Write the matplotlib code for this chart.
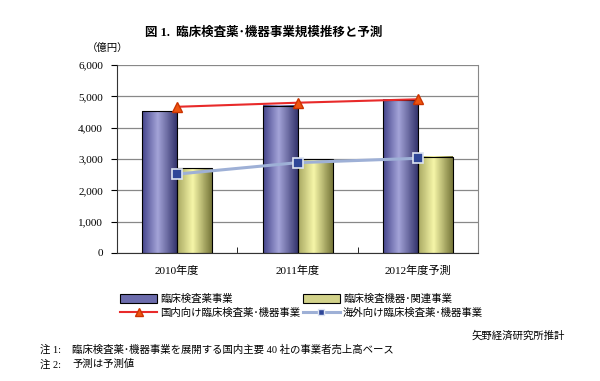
import matplotlib
matplotlib.use("Agg")
import matplotlib.pyplot as plt
import numpy as np
from matplotlib.colors import LinearSegmentedColormap
from matplotlib.patches import Patch
from matplotlib.lines import Line2D

plt.rcParams['font.family'] = ['Liberation Serif', 'Noto Sans CJK JP']

# data (億円)
years = ['2010年度', '2011年度', '2012年度予測']
reagent = [4530, 4700, 4890]      # 臨床検査薬事業
equipment = [2700, 2990, 3070]    # 臨床検査機器・関連事業
domestic = [4670, 4800, 4910]     # 国内向け
overseas = [2520, 2885, 3025]     # 海外向け

blue_cmap = LinearSegmentedColormap.from_list(
    'b', [(0, '#45458c'), (0.45, '#a4a4d8'), (1, '#35356e')])
yellow_cmap = LinearSegmentedColormap.from_list(
    'y', [(0, '#a8a862'), (0.45, '#f6f6a8'), (1, '#77773a')])

fig = plt.figure(figsize=(6, 3.81), dpi=100)
ax = fig.add_axes([0.195, 0.336, 0.602, 0.493])

x = np.arange(len(years))
w = 0.29
grad = np.linspace(0, 1, 64).reshape(1, -1)

bars1 = ax.bar(x - w / 2, reagent, w, facecolor='none', edgecolor='black', linewidth=0.8, zorder=3)
bars2 = ax.bar(x + w / 2, equipment, w, facecolor='none', edgecolor='black', linewidth=0.8, zorder=3)
for bars, cm in ((bars1, blue_cmap), (bars2, yellow_cmap)):
    for b in bars:
        ax.imshow(grad, cmap=cm, aspect='auto', zorder=2,
                  extent=[b.get_x(), b.get_x() + b.get_width(), 0, b.get_height()])

ax.plot(x, domestic, color='#e82a2a', lw=1.5, marker='^', ms=7.5,
        mfc='#ee5511', mec='#cc3300', zorder=5)
ax.plot(x, overseas, color='#9eb0d6', lw=2.2, marker='s', ms=7,
        mfc='#2e4698', mec='#dde4f2', mew=1.2, zorder=5)

ax.set_xlim(-0.5, 2.5)
ax.set_ylim(0, 6000)
ax.set_yticks(range(0, 6001, 1000))
ax.set_yticklabels([f'{v:,}' for v in range(0, 6001, 1000)], fontsize=8)
ax.yaxis.grid(True, color='#888888', lw=0.9, zorder=0)
ax.set_axisbelow(True)
ax.set_xticks(x)
ax.set_xticklabels(years, fontsize=8)
ax.tick_params(axis='x', length=0, pad=9)
ax.set_xticks([0.5, 1.5], minor=True)
ax.tick_params(axis='x', which='minor', direction='in', length=4)
ax.tick_params(axis='y', length=4, direction='out', pad=6)
ax.spines['top'].set_visible(False)
ax.spines['right'].set_color('#888888')
for s in ('left', 'bottom'):
    ax.spines[s].set_color('#333333')

fig.text(0.44, 0.915, '図 1.  臨床検査薬･機器事業規模推移と予測', ha='center', va='center',
         fontsize=9, fontweight='bold')
fig.text(0.145, 0.875, '（億円）', ha='left', va='center', fontsize=7.5)

handles = [
    Patch(facecolor='#6c6cac', edgecolor='black', lw=0.8),
    Line2D([], [], color='#e82a2a', lw=1.5, marker='^', ms=6, mfc='#ee5511', mec='#cc3300'),
    Patch(facecolor='#d2d28a', edgecolor='black', lw=0.8),
    Line2D([], [], color='#9eb0d6', lw=2.2, marker='s', ms=5, mfc='#2e4698', mec='#dde4f2'),
]
labels = ['臨床検査薬事業', '国内向け臨床検査薬･機器事業',
          '臨床検査機器･関連事業', '海外向け臨床検査薬･機器事業']
fig.legend(handles, labels, ncol=2, loc='upper left', bbox_to_anchor=(0.185, 0.253),
           frameon=False, fontsize=7.5, handlelength=3.5, handleheight=0.9,
           columnspacing=0.3, labelspacing=0.35, handletextpad=0.3)

fig.text(0.942, 0.12, '矢野経済研究所推計', ha='right', va='center', fontsize=7.5)
fig.text(0.067, 0.081, '注 1:', ha='left', va='center', fontsize=7.5)
fig.text(0.12, 0.081, '臨床検査薬･機器事業を展開する国内主要 40 社の事業者売上高ベース',
         ha='left', va='center', fontsize=7.5)
fig.text(0.067, 0.044, '注 2:', ha='left', va='center', fontsize=7.5)
fig.text(0.12, 0.044, '予測は予測値', ha='left', va='center', fontsize=7.5)

fig.savefig('out.png', dpi=100)
